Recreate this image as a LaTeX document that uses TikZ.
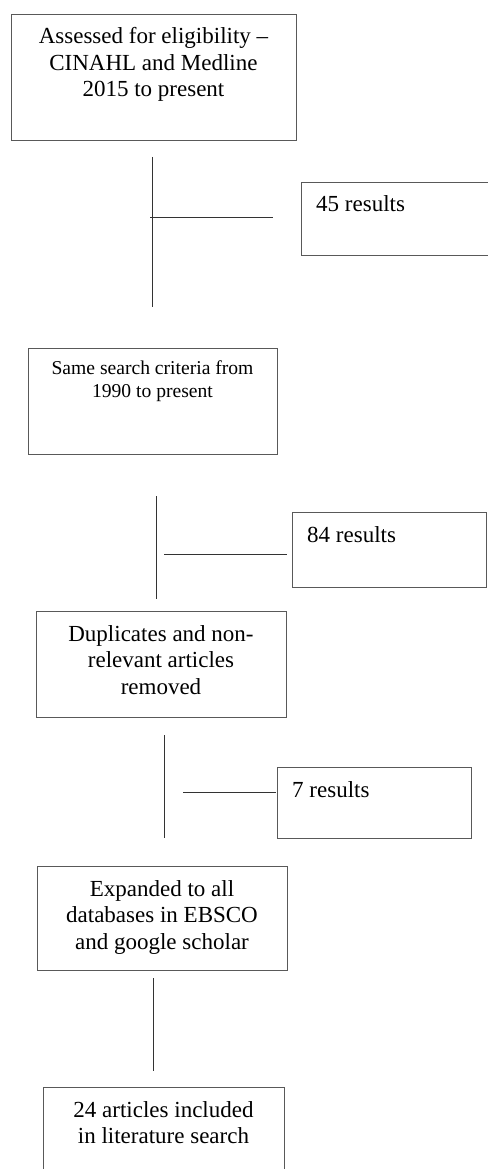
\documentclass[tikz,border=0pt]{standalone}
\usepackage{fontspec}
\setmainfont{Liberation Serif}
\begin{document}
\begin{tikzpicture}[x=1pt,y=-1pt,
  box/.style={draw=black!65, line width=1pt, inner sep=0pt, anchor=north west},
  big/.style={font=\fontsize{23}{26.8}\selectfont, align=center, inner sep=0pt, anchor=north},
  small/.style={font=\fontsize{19.6}{23}\selectfont, align=center, inner sep=0pt, anchor=north},
  res/.style={font=\fontsize{23}{26.8}\selectfont, inner sep=0pt, anchor=north west},
  conn/.style={draw=black!80, line width=1pt}]
\useasboundingbox (0,0) rectangle (487,1169);
% boxes
\node[box, minimum width=285, minimum height=126] (b1) at (11,14) {};
\node[box, minimum width=195, minimum height=73] (r1) at (301,182) {};
\node[box, minimum width=249, minimum height=106] (b2) at (28,348) {};
\node[box, minimum width=194, minimum height=75] (r2) at (292,512) {};
\node[box, minimum width=250, minimum height=106] (b3) at (36,611) {};
\node[box, minimum width=194, minimum height=71] (r3) at (277,767) {};
\node[box, minimum width=250, minimum height=104] (b4) at (37,866) {};
\node[box, minimum width=241, minimum height=100] (b5) at (43,1087) {};
% texts
\node[big] (t1) at (153.5,27) {Assessed for eligibility –\\CINAHL and Medline\\2015 to present};
\node[res] (tr1) at (316,195.5) {45 results};
\node[small] (t2) at (152.5,360) {Same search criteria from\\1990 to present};
\node[res] (tr2) at (307,526) {84 results};
\node[big] (t3) at (161,625) {Duplicates and non-\\relevant articles\\removed};
\node[res] (tr3) at (292,781) {7 results};
\node[big] (t4) at (162,880) {Expanded to all\\databases in EBSCO\\and google scholar};
\node[big] (t5) at (163.5,1101) {24 articles included\\in literature search};
% connectors
\coordinate (v1a) at (152,157); \coordinate (v1b) at (152,307);
\coordinate (h1a) at (150,217); \coordinate (h1b) at (273,217);
\coordinate (v2a) at (156,496); \coordinate (v2b) at (156,599);
\coordinate (h2a) at (164,554); \coordinate (h2b) at (287,554);
\coordinate (v3a) at (164,735); \coordinate (v3b) at (164,838);
\coordinate (h3a) at (183,792); \coordinate (h3b) at (276,792);
\coordinate (v4a) at (153,978); \coordinate (v4b) at (153,1071);
\draw[conn] (v1a) -- (v1b);
\draw[conn] (h1a) -- (h1b);
\draw[conn] (v2a) -- (v2b);
\draw[conn] (h2a) -- (h2b);
\draw[conn] (v3a) -- (v3b);
\draw[conn] (h3a) -- (h3b);
\draw[conn] (v4a) -- (v4b);
\end{tikzpicture}
\end{document}
